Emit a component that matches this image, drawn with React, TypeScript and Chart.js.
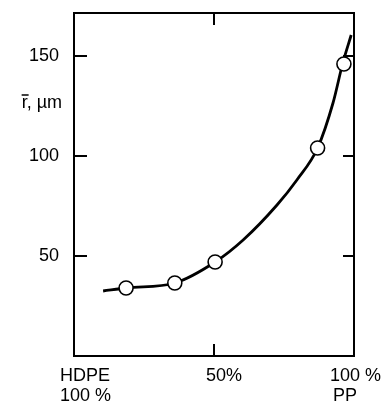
import React, { useEffect, useRef } from "react";
import { Chart, registerables } from "chart.js";

Chart.register(...registerables);

const measuredX = [18.6, 36, 50.4, 87, 96.4];
const measuredY = [34, 36.5, 47, 104, 146];
const curveX = [10.4, 18.9, 36, 50.4, 60.4, 72.5, 79.6, 87, 92.5, 96, 99];
const curveY = [32.5, 34, 36.5, 47, 58, 75.5, 88, 104, 126.5, 146.5, 160.5];
const yTicks = [50, 100, 150];
const xTicks = [50];
const yTitle = "r, µm";

const FAMILY = "'Liberation Sans', Arial, sans-serif";
const FONT = "18px " + FAMILY;

const decor = {
  id: "decor",
  afterDraw(chart: any) {
    const { ctx, chartArea } = chart;
    const xs = chart.scales.x;
    const ys = chart.scales.y;
    ctx.save();
    ctx.strokeStyle = "#000";
    ctx.lineWidth = 2;
    ctx.beginPath();
    for (const v of yTicks) {
      const py = ys.getPixelForValue(v);
      ctx.moveTo(chartArea.left, py);
      ctx.lineTo(chartArea.left + 13, py);
      ctx.moveTo(chartArea.right - 11, py);
      ctx.lineTo(chartArea.right, py);
    }
    for (const v of xTicks) {
      const px = xs.getPixelForValue(v);
      ctx.moveTo(px, chartArea.top);
      ctx.lineTo(px, chartArea.top + 12);
      ctx.moveTo(px, chartArea.bottom - 12);
      ctx.lineTo(px, chartArea.bottom);
    }
    ctx.stroke();

    ctx.fillStyle = "#000";
    ctx.font = FONT;
    ctx.textBaseline = "middle";
    // y title
    ctx.textAlign = "right";
    const ty = ys.getPixelForValue(126.5);
    const tx = chartArea.left - 12;
    ctx.fillText(yTitle, tx, ty);
    const w = ctx.measureText(yTitle).width;
    const rw = ctx.measureText("r").width;
    ctx.lineWidth = 1.5;
    ctx.beginPath();
    ctx.moveTo(tx - w, ty - 8);
    ctx.lineTo(tx - w + rw + 1, ty - 8);
    ctx.stroke();

    // x labels
    const b = chartArea.bottom;
    const p0 = xs.getPixelForValue(0);
    const p50 = xs.getPixelForValue(50);
    const p100 = xs.getPixelForValue(100);
    ctx.textAlign = "left";
    ctx.fillText("HDPE", p0 - 14, b + 20);
    ctx.fillText("100 %", p0 - 14, b + 40);
    ctx.textAlign = "center";
    ctx.fillText("50%", p50 + 10, b + 20);
    ctx.textAlign = "left";
    ctx.fillText("100 %", p100 - 24, b + 20);
    ctx.fillText("PP", p100 - 21, b + 40);
    ctx.restore();
  },
};

const noPad = (s: any) => {
  s.paddingTop = 0;
  s.paddingBottom = 0;
  s.paddingLeft = 0;
  s.paddingRight = 0;
};

export default function App() {
  const ref = useRef<HTMLCanvasElement>(null);
  useEffect(() => {
    document.body.style.margin = "0";
    const chart = new Chart(ref.current!, {
      type: "scatter",
      data: {
        datasets: [
          {
            data: curveX.map((x, i) => ({ x, y: curveY[i] })),
            showLine: true,
            borderColor: "#000",
            borderWidth: 2.8,
            pointRadius: 0,
            cubicInterpolationMode: "monotone",
            order: 2,
          },
          {
            data: measuredX.map((x, i) => ({ x, y: measuredY[i] })),
            showLine: false,
            pointRadius: 7,
            pointBorderWidth: 1.6,
            pointBackgroundColor: "#fff",
            pointBorderColor: "#000",
            order: 1,
          },
        ],
      },
      options: {
        animation: false,
        responsive: false,
        layout: { padding: 0 },
        plugins: { legend: { display: false }, tooltip: { enabled: false } },
        scales: {
          x: {
            type: "linear",
            position: "bottom",
            min: 0,
            max: 100,
            grid: { display: false },
            border: { display: true, color: "#000", width: 2 },
            ticks: { display: false },
            afterFit: (s: any) => { s.height = 49; noPad(s); },
          },
          x2: {
            type: "linear",
            position: "top",
            min: 0,
            max: 100,
            grid: { display: false },
            border: { display: true, color: "#000", width: 2 },
            ticks: { display: false },
            afterFit: (s: any) => { s.height = 13; noPad(s); },
          },
          y: {
            type: "linear",
            position: "left",
            min: 0,
            max: 171.5,
            grid: { display: false },
            border: { display: true, color: "#000", width: 2 },
            afterBuildTicks: (s: any) => { s.ticks = yTicks.map((v) => ({ value: v })); },
            ticks: {
              color: "#000",
              padding: 7,
              font: { family: FAMILY, size: 18 },
            },
            afterFit: (s: any) => { s.width = 74; noPad(s); },
          },
          y2: {
            type: "linear",
            position: "right",
            min: 0,
            max: 171.5,
            grid: { display: false },
            border: { display: true, color: "#000", width: 2 },
            ticks: { display: false },
            afterFit: (s: any) => { s.width = 28; noPad(s); },
          },
        },
      } as any,
      plugins: [decor],
    });
    return () => chart.destroy();
  }, []);
  return <canvas ref={ref} width={382} height={405} />;
}
